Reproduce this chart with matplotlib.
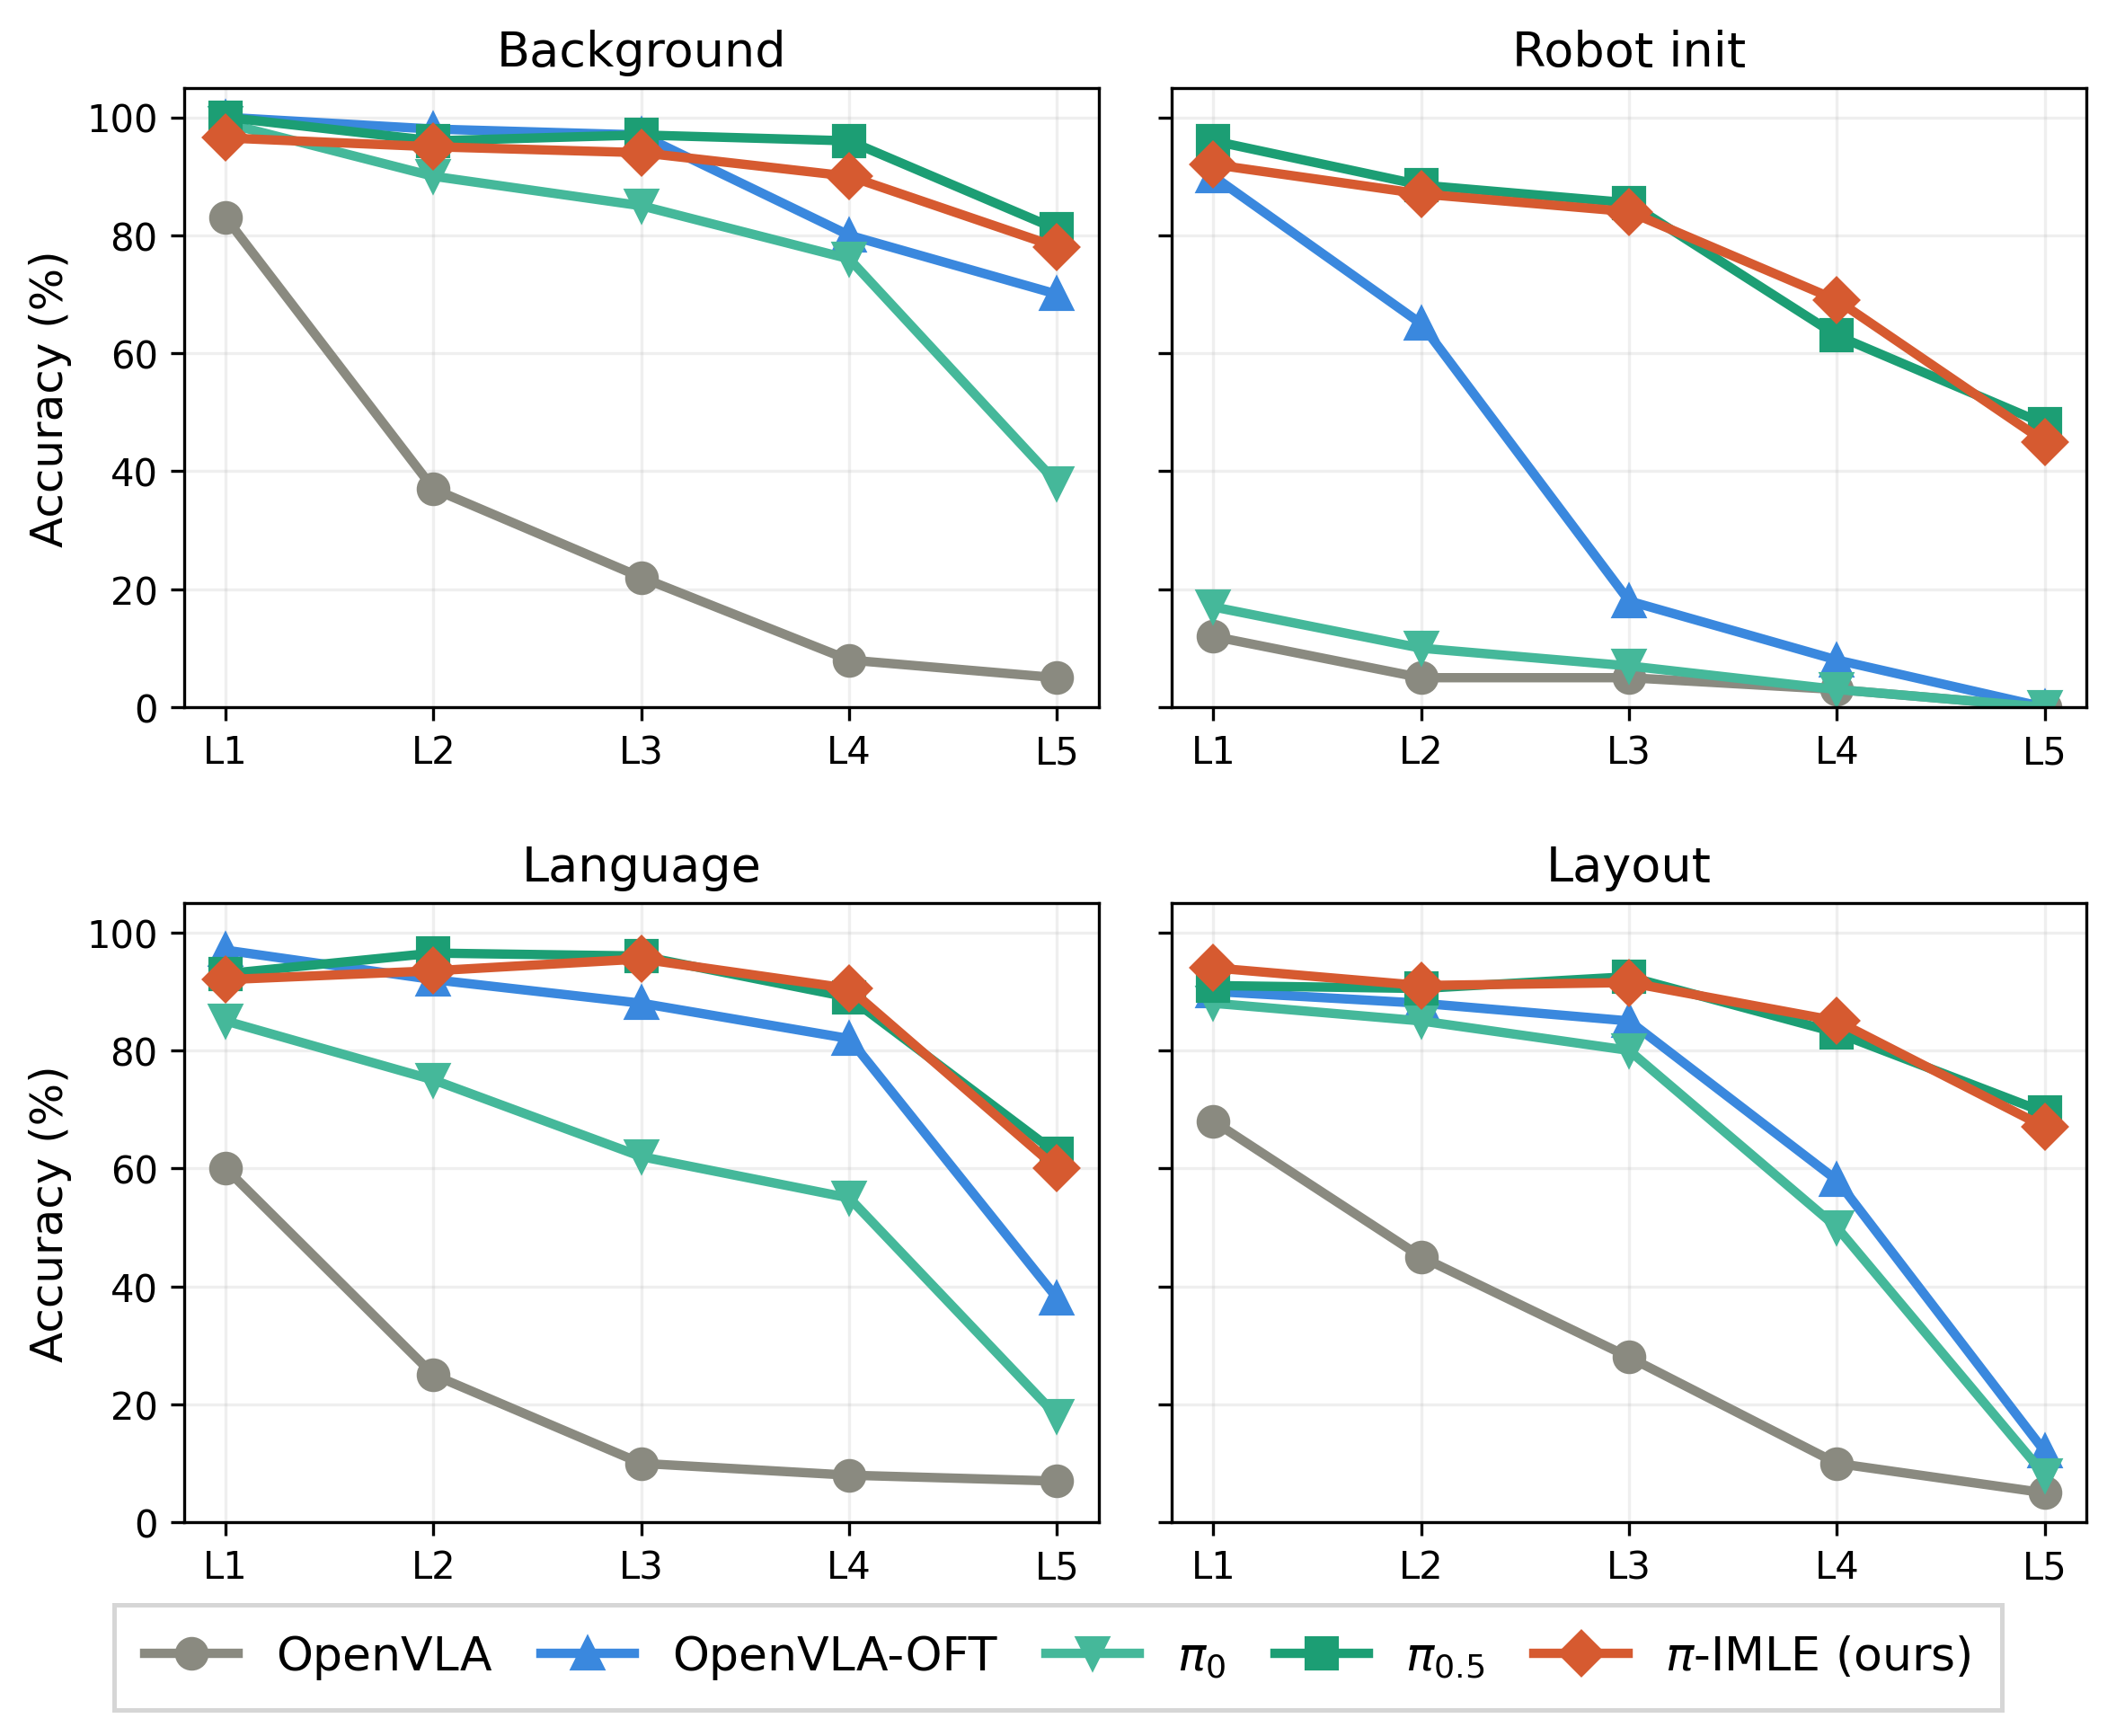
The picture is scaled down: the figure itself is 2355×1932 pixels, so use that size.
import matplotlib.pyplot as plt

levels = ["L1", "L2", "L3", "L4", "L5"]
panels = ["Background", "Robot init", "Language", "Layout"]
methods = ["OpenVLA", "OpenVLA-OFT", r"$\pi_0$", r"$\pi_{0.5}$", r"$\pi$-IMLE (ours)"]

# accuracy per panel, per method (L1..L5)
openvla = {
    "Background": [83, 37, 22, 8, 5],
    "Robot init": [12, 5, 5, 3, 0],
    "Language": [60, 25, 10, 8, 7],
    "Layout": [68, 45, 28, 10, 5],
}
openvla_oft = {
    "Background": [100, 98, 97, 80, 70],
    "Robot init": [90, 65, 18, 8, 0],
    "Language": [97, 92, 88, 82, 38],
    "Layout": [90, 88, 85, 58, 12],
}
pi0 = {
    "Background": [99, 90, 85, 76, 38],
    "Robot init": [17, 10, 7, 3, 0],
    "Language": [85, 75, 62, 55, 18],
    "Layout": [88, 85, 80, 50, 8],
}
pi05 = {
    "Background": [100, 96, 97, 96, 81],
    "Robot init": [96, 88.5, 85.5, 63, 48],
    "Language": [93, 96.5, 96, 89, 62.5],
    "Layout": [91, 90.5, 92.5, 83, 69.5],
}
pi_imle = {
    "Background": [96.5, 95, 94, 90, 78],
    "Robot init": [92, 87, 84, 69, 45],
    "Language": [92, 93.5, 95.5, 90.5, 60],
    "Layout": [94, 91, 91.5, 85, 67],
}

series = [openvla, openvla_oft, pi0, pi05, pi_imle]
colors = ["#8a8a80", "#3a88de", "#45b89a", "#1c9e74", "#d65a30"]
markers = ["o", "^", "v", "s", "D"]

fig, axes = plt.subplots(2, 2, figsize=(7.85, 6.443), dpi=300, sharey=True)
fig.subplots_adjust(left=0.087, right=0.986, top=0.949, bottom=0.123, wspace=0.08, hspace=0.316)

for ax, name in zip(axes.flat, panels):
    for data, label, c, m in zip(series, methods, colors, markers):
        ax.plot(levels, data[name], color=c, marker=m, linewidth=2.5, markersize=8, label=label)
    ax.set_title(name, fontsize=13)
    ax.set_ylim(0, 105)
    ax.set_yticks([0, 20, 40, 60, 80, 100])
    ax.grid(True, alpha=0.2)
    ax.tick_params(labelsize=10)

axes[0, 0].set_ylabel("Accuracy (%)", fontsize=12)
axes[1, 0].set_ylabel("Accuracy (%)", fontsize=12)

handles, labels = axes[0, 0].get_legend_handles_labels()
leg = fig.legend(handles, labels, loc="lower center", ncol=5, fontsize=12.5,
                 bbox_to_anchor=(0.5, 0.0148), borderaxespad=0, fancybox=False,
                 borderpad=0.65, handlelength=2.0, columnspacing=1.05)
leg.get_frame().set_edgecolor("#cccccc")
leg.get_frame().set_linewidth(1.2)

plt.savefig("out.png", dpi=300)
